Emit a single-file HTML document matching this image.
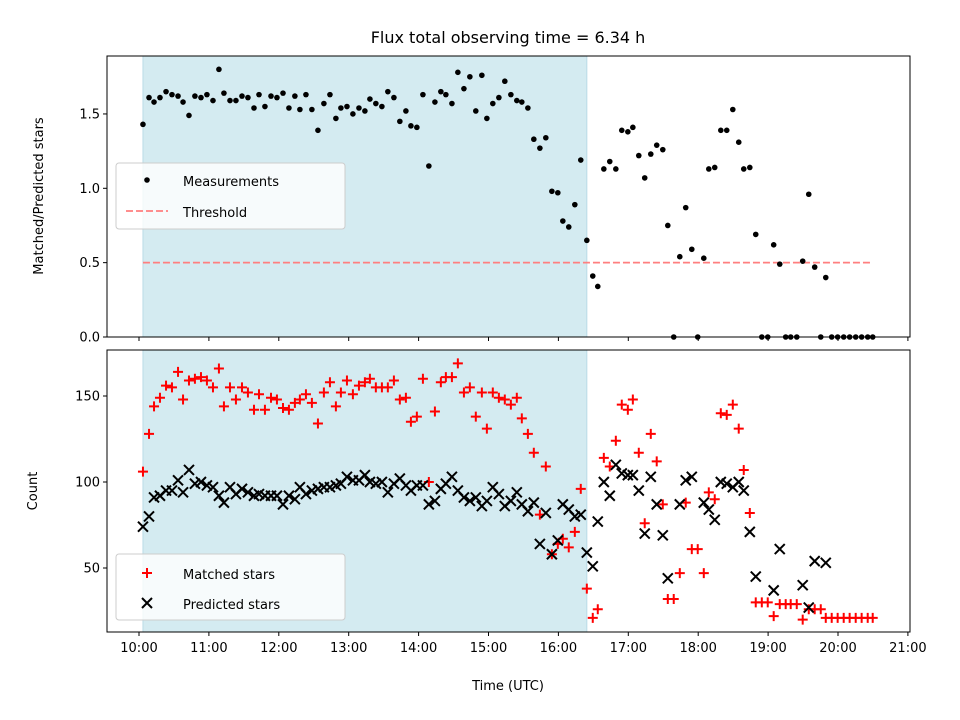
<!DOCTYPE html>
<html><head><meta charset="utf-8"><style>
html,body{margin:0;padding:0;background:#fff}
svg{display:block;font-family:"DejaVu Sans","Liberation Sans",sans-serif}
</style></head><body>
<svg id="chart" width="960" height="720" xmlns="http://www.w3.org/2000/svg"></svg>
<script>
const hourTicks=["10:00","11:00","12:00","13:00","14:00","15:00","16:00","17:00","18:00","19:00","20:00","21:00"];
const ratioTicks=[0,0.5,1.0,1.5];
const countTicks=[50,100,150];
const obsStart=3.4, obsEnd=384.4, threshold=0.5;
const minutes=[3.4,8.6,12.9,18.0,23.2,28.3,33.5,37.8,42.9,48.0,53.2,58.3,63.5,68.6,72.9,78.1,83.2,88.4,93.5,98.7,103.0,108.1,113.3,118.4,123.6,128.7,133.8,138.1,143.3,148.4,153.6,158.7,163.9,169.0,173.3,178.5,183.6,188.8,193.9,198.2,203.3,208.5,213.6,218.8,223.9,229.1,233.4,238.5,243.7,248.8,254.0,259.1,263.4,268.6,273.7,278.9,284.0,289.1,294.3,298.6,303.7,308.9,314.0,319.2,324.3,328.6,333.8,338.9,344.1,349.2,354.4,359.5,363.8,368.9,374.1,379.2,384.4,389.5,393.8,399.0,404.1,409.3,414.4,419.6,423.9,429.0,434.1,439.3,444.4,449.6,453.9,459.0,464.2,469.3,474.5,479.6,484.8,489.1,494.2,499.4,504.5,509.7,514.8,519.1,524.3,529.4,534.6,539.7,544.8,550.0,555.1,559.4,564.6,569.7,574.9,580.0,585.2,589.5,594.6,599.7,604.9,610.0,615.2,620.3,625.5,629.8];
const ratio=[1.43,1.61,1.58,1.61,1.65,1.63,1.62,1.58,1.49,1.62,1.61,1.63,1.59,1.80,1.64,1.59,1.59,1.62,1.61,1.54,1.63,1.55,1.62,1.61,1.64,1.54,1.62,1.53,1.63,1.53,1.39,1.57,1.63,1.47,1.54,1.55,1.50,1.54,1.52,1.60,1.57,1.55,1.65,1.61,1.45,1.52,1.42,1.41,1.63,1.15,1.58,1.65,1.63,1.57,1.78,1.67,1.75,1.52,1.76,1.47,1.57,1.61,1.72,1.63,1.59,1.58,1.54,1.33,1.27,1.34,0.98,0.97,0.78,0.74,0.89,1.19,0.65,0.41,0.34,1.13,1.18,1.13,1.39,1.38,1.41,1.22,1.07,1.23,1.29,1.26,0.75,0,0.54,0.87,0.59,0,0.53,1.13,1.14,1.39,1.39,1.53,1.31,1.13,1.14,0.69,0,0,0.62,0.49,0,0,0,0.51,0.96,0.47,0,0.40,0,0,0,0,0,0,0,0];
const matched=[106,128,144,149,156,155,164,148,159,160,161,159,155,166,144,155,148,155,152,142,151,142,149,148,143,142,146,148,151,146,134,152,158,144,152,159,151,156,158,160,155,155,155,159,148,149,135,138,160,100,141,158,161,161,169,152,155,138,152,131,152,149,148,145,149,137,128,117,81,109,58,64,67,62,71,96,38,21,26,114,109,124,145,142,148,117,76,128,112,87,32,32,47,88,61,61,47,94,90,140,139,145,131,107,82,30,30,30,22,29,29,29,29,20,26,26,26,21,21,21,21,21,21,21,21,21];
const predicted=[74,80,91,92,95,95,101,94,107,99,100,98,97,92,88,97,93,96,94,92,93,92,92,92,87,92,90,97,93,95,96,97,97,98,99,103,101,101,104,100,99,100,94,99,102,98,95,98,98,87,89,96,99,103,95,91,89,91,86,89,97,93,86,89,94,87,83,88,64,82,58,66,87,84,80,81,59,51,77,100,92,110,105,104,104,95,70,103,87,69,44,null,87,101,103,null,88,84,78,100,99,97,100,95,71,45,null,null,37,61,null,null,null,40,27,54,null,53,null,null,null,null,null,null,null,null];

const NS="http://www.w3.org/2000/svg";
const svg=document.getElementById('chart');
function mk(tag,attrs,parent){const e=document.createElementNS(NS,tag);for(const k in attrs)e.setAttribute(k,attrs[k]);(parent||svg).appendChild(e);return e;}
const L=107,R=910;
const xs=m=>139+m/60*69.9;
const T={top:56,bot:337};const B={top:350,bot:632};
const yr=v=>337-v*148.7;
const yc=v=>396-(v-150)*1.72;

[[T,'top'],[B,'bottom']].forEach(([ax,n])=>{
 const r=mk('rect',{x:xs(obsStart),y:ax.top,width:xs(obsEnd)-xs(obsStart),height:ax.bot-ax.top,fill:'#d4ebf1',stroke:'#b9dbe6','stroke-width':1});
 
 
});

const th=mk('line',{x1:xs(obsStart),x2:xs(629.8),y1:yr(threshold),y2:yr(threshold),stroke:'#ff7f7f','stroke-width':1.8,'stroke-dasharray':'7,3'});



const gm=mk('g',{});


minutes.forEach((m,i)=>{
 const c=mk('circle',{cx:xs(m),cy:yr(ratio[i]),r:2.8,fill:'#000'},gm);
 
 
});

const gp=mk('g',{stroke:'#ff0000','stroke-width':2});


minutes.forEach((m,i)=>{
 const x=xs(m),y=yc(matched[i]),s=5;
 const p=mk('path',{d:`M${x-s},${y}H${x+s}M${x},${y-s}V${y+s}`},gp);
 
 
});
const gx=mk('g',{stroke:'#000','stroke-width':2});


minutes.forEach((m,i)=>{
 if(predicted[i]==null)return;
 const x=xs(m),y=yc(predicted[i]),s=5;
 const p=mk('path',{d:`M${x-s},${y-s}L${x+s},${y+s}M${x-s},${y+s}L${x+s},${y-s}`},gx);
 
 
});

[[T,'top'],[B,'bottom']].forEach(([ax,n])=>{
 const f=mk('rect',{x:L,y:ax.top,width:R-L,height:ax.bot-ax.top,fill:'none',stroke:'#000','stroke-width':1});
 
 
 hourTicks.forEach((lab,i)=>{
  const x=xs(i*60);
  const t=mk('line',{x1:x,x2:x,y1:ax.bot,y2:ax.bot+4,stroke:'#000'});
  
  
  if(n==='bottom'){
   const tx=mk('text',{x:x,y:ax.bot+20,'font-size':13,'text-anchor':'middle'});
   tx.textContent=lab;
   
   
  }
 });
});
ratioTicks.forEach(v=>{
 const y=yr(v);
 const t=mk('line',{x1:L-4,x2:L,y1:y,y2:y,stroke:'#000'});
 
 
 const tx=mk('text',{x:L-7,y:y+4.5,'font-size':13,'text-anchor':'end'});
 tx.textContent=v.toFixed(1);
 
 
});
countTicks.forEach(v=>{
 const y=yc(v);
 const t=mk('line',{x1:L-4,x2:L,y1:y,y2:y,stroke:'#000'});
 
 
 const tx=mk('text',{x:L-7,y:y+4.5,'font-size':13,'text-anchor':'end'});
 tx.textContent=v;
 
 
});

function text(x,y,s,size,name,extra){
 const t=mk('text',Object.assign({x:x,y:y,'font-size':size},extra||{}));
 t.textContent=s;
 
 
 return t;
}
text(508,43,'Flux total observing time = 6.34 h',16,'chart-title',{'text-anchor':'middle'});
text(508,690,'Time (UTC)',13,'x-axis-title',{'text-anchor':'middle'});
text(43,196,'Matched/Predicted stars',13,'top-y-axis-title',{'text-anchor':'middle',transform:'rotate(-90 43 196)'});
text(37,491,'Count',13,'bottom-y-axis-title',{'text-anchor':'middle',transform:'rotate(-90 37 491)'});

function legend(y0,name){
 const g=mk('g',{});
 
 
 mk('rect',{x:116,y:y0,width:229,height:66,rx:3,fill:'#fff','fill-opacity':0.8,stroke:'#cccccc'},g);
 return g;
}
const lg1=legend(163,'top-legend');
mk('circle',{cx:147,cy:180,r:2.8,fill:'#000'},lg1);
text(183,186,'Measurements',13,'legend-measurements');
mk('line',{x1:126,x2:168,y1:211,y2:211,stroke:'#ff7f7f','stroke-width':1.8,'stroke-dasharray':'7,3'},lg1);
text(183,217,'Threshold',13,'legend-threshold');
const lg2=legend(554,'bottom-legend');
mk('path',{d:'M142,573H152M147,568V578',stroke:'#f00','stroke-width':2},lg2);
text(183,579,'Matched stars',13,'legend-matched');
mk('path',{d:'M142,598L152,608M142,608L152,598',stroke:'#000','stroke-width':2},lg2);
text(183,609,'Predicted stars',13,'legend-predicted');
</script>
</body></html>
